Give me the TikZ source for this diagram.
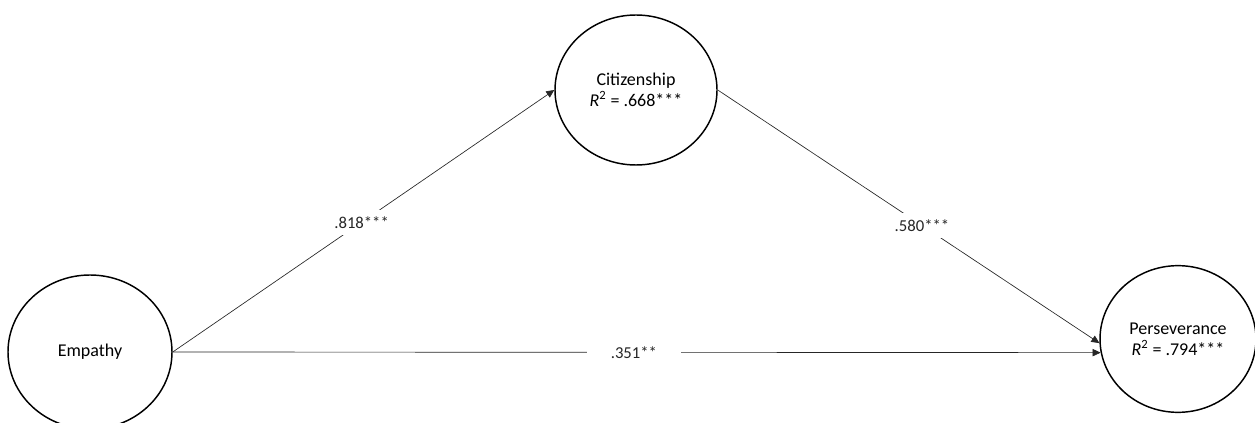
\documentclass[tikz,border=0pt]{standalone}
\usepackage{fontspec}
\setmainfont{Carlito}
\usetikzlibrary{arrows.meta,shapes.geometric}

\begin{document}
\begin{tikzpicture}[x=0.75pt, y=-0.75pt, every node/.style={font=\fontsize{13.5}{15.5}\selectfont}, >={Triangle[length=6pt, width=5.5pt]}, lat/.style={draw, ellipse, line width=1.1pt, inner sep=0pt, align=center}, path/.style={->, line width=0.5pt, black!85}, coef/.style={fill=white, inner sep=5pt, font=\fontsize{12.5}{15}\selectfont}]
	\useasboundingbox (0,0) rectangle (1255,423);
	\node[lat, minimum width=123pt, minimum height=115.5pt] (emp) at (90,352) {Empathy};
	\node[lat, minimum width=121.5pt, minimum height=112.5pt] (cit) at (636,90) {Citizenship\\\textit{R}\textsuperscript{2} = .668***};
	\node[lat, minimum width=117pt, minimum height=110pt] (per) at (1178,339) {Perseverance\\\textit{R}\textsuperscript{2} = .794***};
	\draw[path] (emp.east) -- (cit.west) node[coef, pos=0.495] {.818***};
	\draw[path] (cit.east) -- (per.183) node[coef, pos=0.535] {.580***};
	\draw[path] (emp.east) -- (per.190) node[coef, pos=0.497, inner xsep=18pt] {.351**};
\end{tikzpicture}
\end{document}
